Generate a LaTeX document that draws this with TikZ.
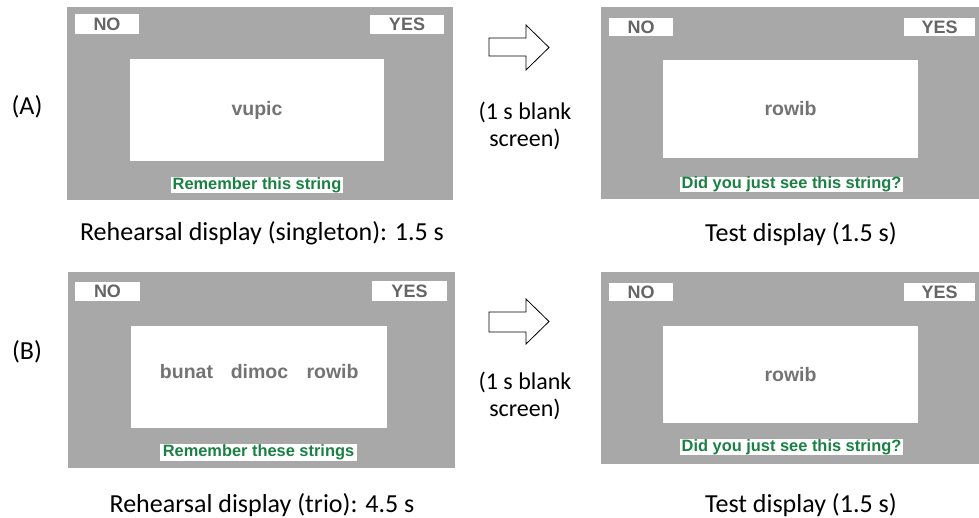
\documentclass[tikz,border=0pt]{standalone}
\usepackage{fontspec}
\setmainfont{Carlito}
\newfontfamily\arialf{Liberation Sans}
\usetikzlibrary{fit}
\definecolor{panelgray}{HTML}{A8A8A8}
\definecolor{wordgray}{HTML}{737373}
\definecolor{btngray}{HTML}{656565}
\definecolor{cuegreen}{HTML}{1A8043}
\begin{document}
\begin{tikzpicture}[x=1pt,y=-1pt,
  panel/.style={fill=panelgray,inner sep=0pt,outer sep=0pt},
  wbox/.style={fill=white,inner sep=0pt,outer sep=0pt},
  btntxt/.style={text=btngray,font=\arialf\bfseries\fontsize{18}{18}\selectfont,inner sep=0pt},
  wordtxt/.style={text=wordgray,font=\arialf\bfseries\fontsize{19.5}{20}\selectfont,inner sep=0pt},
  cuetxt/.style={text=cuegreen,font=\arialf\bfseries\fontsize{16.4}{17}\selectfont,inner sep=0pt},
  captxt/.style={font=\fontsize{26}{30}\selectfont,inner sep=0pt,anchor=base},
  midtxt/.style={font=\fontsize{24}{27}\selectfont,inner sep=0pt,align=center},
  blockarrow/.style={draw=black,fill=white,line width=0.8pt,line join=miter}]
\useasboundingbox (0,0) rectangle (979,518);

% ---------- Row A, rehearsal screen ----------
\node[panel,fit={(67,7) (453,200)}] (pA) {};
\node[wbox,fit={(75,14) (139,34)}] (noA) {};
\node[btntxt] at (noA) {NO};
\node[wbox,fit={(370,15) (444,34)}] (yesA) {};
\node[btntxt] at (yesA) {YES};
\node[wbox,fit={(130,59) (384,161)}] (cA) {};
\node[wordtxt] (wA) at (cA) {vupic};
\node[wbox,fit={(171,177) (343,193)}] (gA) {};
\node[cuetxt] (tA) at (gA) {Remember this string};

% ---------- Row A, test screen ----------
\node[panel,fit={(601,7) (979,199)}] (pA2) {};
\node[wbox,fit={(609,18) (673,36)}] (noA2) {};
\node[btntxt] at (noA2) {NO};
\node[wbox,fit={(904,18) (975,36)}] (yesA2) {};
\node[btntxt] at (yesA2) {YES};
\node[wbox,fit={(663,60) (918,158)}] (cA2) {};
\node[wordtxt] (wA2) at (cA2) {rowib};
\node[wbox,fit={(680,177) (903,192)}] (gA2) {};
\node[cuetxt] (tA2) at (gA2) {Did you just see this string?};

% ---------- Row B, rehearsal screen ----------
\node[panel,fit={(68,272) (455,468)}] (pB) {};
\node[wbox,fit={(75,282) (140,301)}] (noB) {};
\node[btntxt] at (noB) {NO};
\node[wbox,fit={(372,281) (447,301)}] (yesB) {};
\node[btntxt] at (yesB) {YES};
\node[wbox,fit={(131,326) (387,428)}] (cB) {};
\node[wordtxt] (w1) at (186.5,372) {bunat};
\node[wordtxt] (w2) at (259.5,372) {dimoc};
\node[wordtxt] (w3) at (332.5,372) {rowib};
\node[wbox,fit={(160,444) (357,461)}] (gB) {};
\node[cuetxt] (tB) at (gB) {Remember these strings};

% ---------- Row B, test screen ----------
\node[panel,fit={(601,272) (979,464)}] (pB2) {};
\node[wbox,fit={(609,283) (673,301)}] (noB2) {};
\node[btntxt] at (noB2) {NO};
\node[wbox,fit={(904,283) (975,301)}] (yesB2) {};
\node[btntxt] at (yesB2) {YES};
\node[wbox,fit={(663,326) (918,423)}] (cB2) {};
\node[wordtxt] (wB2) at (cB2) {rowib};
\node[wbox,fit={(680,439) (903,455)}] (gB2) {};
\node[cuetxt] (tB2) at (gB2) {Did you just see this string?};

% ---------- row labels ----------
\node[font=\fontsize{26}{30}\selectfont,inner sep=0pt] (lA) at (27,107) {(A)};
\node[font=\fontsize{26}{30}\selectfont,inner sep=0pt] (lB) at (27,352) {(B)};

% ---------- captions ----------
\node[captxt] (capA) at (262,241) {Rehearsal display (singleton): 1.5 s};
\node[captxt] (capA2) at (801,242) {Test display (1.5 s)};
\node[captxt] (capB) at (262,512) {Rehearsal display (trio): 4.5 s};
\node[captxt] (capB2) at (801,512) {Test display (1.5 s)};

% ---------- blank-screen arrows ----------
\draw[blockarrow] (489,38) -- (526,38) -- (526,25) -- (549,47.5) -- (526,70) -- (526,56) -- (489,56) -- cycle;
\node[midtxt] (mA) at (525,126) {(1 s blank\\screen)};
\draw[blockarrow] (489,312) -- (526,312) -- (526,299) -- (549,321.5) -- (526,344) -- (526,332) -- (489,332) -- cycle;
\node[midtxt] (mB) at (525,396) {(1 s blank\\screen)};
\end{tikzpicture}
\end{document}
